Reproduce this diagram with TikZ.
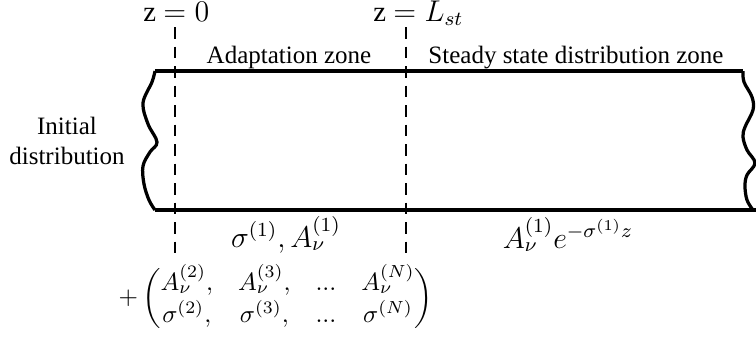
\documentclass[tikz,border=0pt]{standalone}
\usepackage{amsmath}
\usepackage{fontspec}
\setmainfont{Liberation Serif}
\usepackage{tikz}
\usetikzlibrary{positioning}

\begin{document}
\begin{tikzpicture}[x=0.4pt,y=-0.4pt,
  wall/.style={line width=1.3pt,line join=round},
  zline/.style={line width=1.15pt,dash pattern=on 4.6pt off 3.2pt},
  txt/.style={inner sep=0pt,font=\fontsize{10}{12}\selectfont},
  mth/.style={inner sep=0pt,font=\fontsize{11.5}{14}\selectfont}
]
\useasboundingbox (0,0) rectangle (756,343);
\coordinate (topl) at (155,71);
\coordinate (topr) at (743,71);
\coordinate (botl) at (155,210);
\coordinate (botr) at (756,210);
\coordinate (zzerotop) at (175,27);
\coordinate (zzerobot) at (175,256);
\coordinate (zsttop) at (406,27);
\coordinate (zstbot) at (406,256);
\draw[wall] (topl) -- (topr);
\draw[wall] (botl) -- (botr);
\draw[wall] plot[smooth,tension=0.6] coordinates {(155,71) (152,82) (143,103) (148,124) (157,142) (150,152) (143,166) (144,184) (149,200) (155,210)};
\draw[wall] plot[smooth,tension=0.6] coordinates {(743,71) (744,82) (752,97) (753,110) (745,127) (743,137) (747,150) (755,163) (747,175) (745,186) (747,200) (753,210)};
\draw[zline] (zzerotop) -- (zzerobot);
\draw[zline] (zsttop) -- (zstbot);
\node[mth,anchor=base west] (zzero) at (143,21) {z $=0$};
\node[mth,anchor=base west] (zst) at (373,21) {z $=L_{st}$};
\node[txt,anchor=base] (adapt) at (289,63) {Adaptation zone};
\node[txt,anchor=base] (steady) at (576,63) {Steady state distribution zone};
\node[txt,align=center] (init) at (67,141) {Initial\\distribution};
\node[mth,anchor=base] (adaptpar) at (286,247) {$\sigma^{(1)}, A_\nu^{(1)}$};
\node[mth,anchor=base] (steadypar) at (568,248) {$A_\nu^{(1)}e^{-\sigma^{(1)}z}$};
\node[txt,anchor=west] (modes) at (118,298) {$+\begin{pmatrix}
  A_\nu^{(2)}, & A_\nu^{(3)}, & ... & A_\nu^{(N)}\\
  \sigma^{(2)}, & \sigma^{(3)}, & ... & \sigma^{(N)}
\end{pmatrix}$};
\end{tikzpicture}
\end{document}
